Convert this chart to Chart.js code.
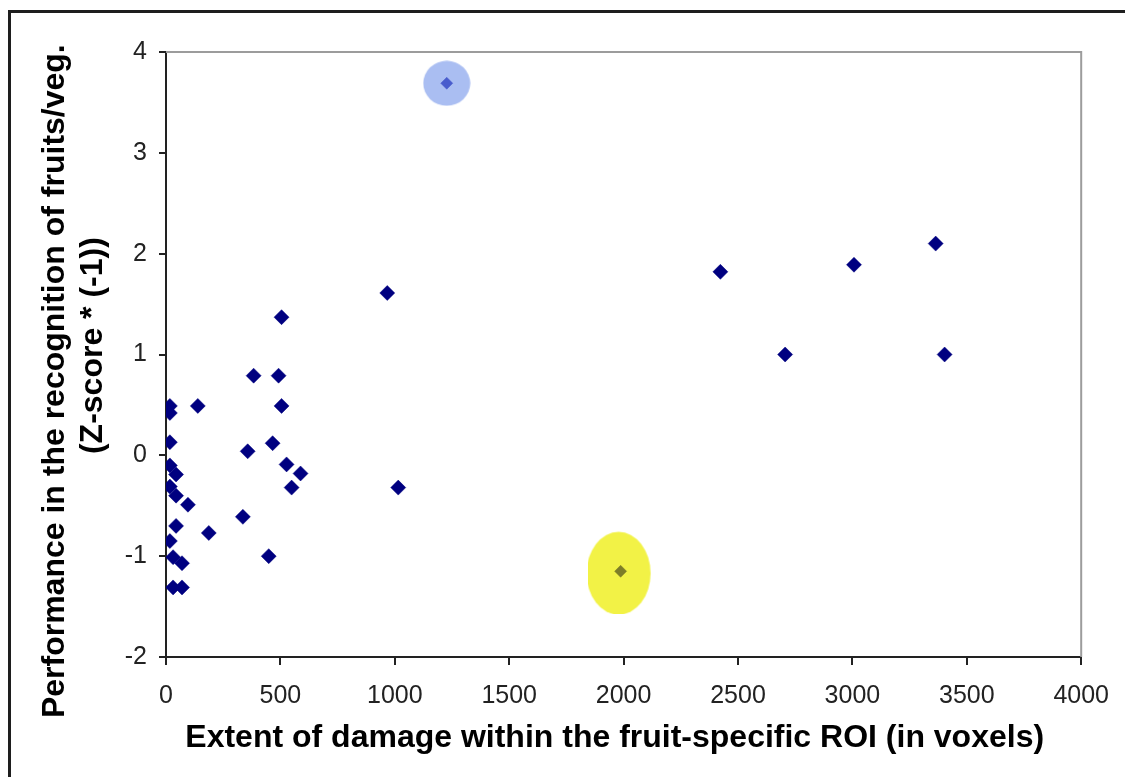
<!DOCTYPE html>
<html><head><meta charset="utf-8">
<script src="https://cdn.jsdelivr.net/npm/chart.js@4"></script>
<style>
html,body{margin:0;padding:0;background:#fff;}
#wrap{position:relative;width:1125px;height:777px;overflow:hidden;background:#fff;}
#frame{position:absolute;left:8px;top:10px;width:1300px;height:1000px;border:3px solid #1e1e1e;box-sizing:border-box;}
canvas{position:absolute;left:0;top:0;}
</style></head>
<body><div id="wrap"><div id="frame"></div><canvas id="c" width="1125" height="777"></canvas></div>
<script>
// Extent of damage (voxels) and performance (Z-score * -1)
const damageX = [17, 17, 139, 505, 17, 466, 357, 17, 44, 527, 588, 549, 1015, 17, 44, 96, 336, 44, 187, 17, 449, 31, 70, 31, 70, 505, 383, 492, 967, 2423, 3007, 3364, 2706, 3403];
const performanceY = [0.49, 0.42, 0.49, 0.49, 0.13, 0.12, 0.04, -0.10, -0.19, -0.09, -0.18, -0.32, -0.32, -0.31, -0.40, -0.49, -0.61, -0.70, -0.77, -0.85, -1.00, -1.01, -1.07, -1.31, -1.31, 1.37, 0.79, 0.79, 1.61, 1.82, 1.89, 2.10, 1.00, 1.00];
// Highlighted patients (blue circle, yellow ellipse)
const highlightX = [1227, 1987];
const highlightY = [3.69, -1.15];
const xTicks = [0, 500, 1000, 1500, 2000, 2500, 3000, 3500, 4000];
const yTicks = [-2, -1, 0, 1, 2, 3, 4];
const xTitle = 'Extent of damage within the fruit-specific ROI (in voxels)  ';
const yTitle = ['Performance in the recognition of fruits/veg.      ', '  (Z-score * (-1))'];

// highlight shapes
const blueHalo = document.createElement('canvas');
blueHalo.width = 48; blueHalo.height = 46;
(function(){const g=blueHalo.getContext('2d');g.fillStyle='rgb(170,190,242)';g.beginPath();g.ellipse(24,23,23.5,22.5,0,0,Math.PI*2);g.fill();})();
const yellowHalo = document.createElement('canvas');
yellowHalo.width = 66; yellowHalo.height = 86;
(function(){const g=yellowHalo.getContext('2d');g.fillStyle='rgb(242,242,70)';g.beginPath();g.ellipse(31,45,32,41.5,0,0,Math.PI*2);g.fill();})();

const mainPts = damageX.map((x, i) => ({x: x, y: performanceY[i]}));
const hiPts = highlightX.map((x, i) => ({x: x, y: highlightY[i]}));

const plotFrame = {
  id: 'plotFrame',
  beforeDatasetsDraw(chart) {
    const {ctx, chartArea: a} = chart;
    ctx.save();
    ctx.strokeStyle = '#9c9c9c';
    ctx.lineWidth = 2;
    ctx.beginPath();
    ctx.moveTo(a.left, a.top);
    ctx.lineTo(a.right, a.top);
    ctx.lineTo(a.right, a.bottom);
    ctx.stroke();
    ctx.restore();
  }
};

new Chart(document.getElementById('c'), {
  type: 'scatter',
  data: {
    datasets: [
      {
        data: hiPts,
        order: 3,
        pointStyle: [blueHalo, yellowHalo],
        pointRadius: 20,
        borderWidth: 0
      },
      {
        data: mainPts,
        order: 2,
        pointStyle: 'rectRot',
        pointRadius: 7.5,
        backgroundColor: '#000080',
        borderColor: '#000080',
        borderWidth: 0.5
      },
      {
        data: hiPts,
        order: 1,
        pointStyle: 'rectRot',
        pointRadius: 6,
        backgroundColor: ['rgb(72,92,205)', 'rgb(125,125,40)'],
        borderColor: ['rgb(72,92,205)', 'rgb(125,125,40)'],
        borderWidth: 0.5
      }
    ]
  },
  plugins: [plotFrame],
  options: {
    responsive: false,
    animation: false,
    events: [],
    layout: {padding: {left: 0, right: 41, top: 52, bottom: 0}},
    plugins: {legend: {display: false}, tooltip: {enabled: false}},
    scales: {
      x: {
        type: 'linear',
        min: 0, max: 4000,
        afterBuildTicks: s => { s.ticks = xTicks.map(v => ({value: v})); },
        afterFit: s => { s.height = 120; },
        border: {display: true, color: '#222', width: 2},
        grid: {drawOnChartArea: false, drawTicks: true, tickLength: 8, color: '#222', lineWidth: 2},
        ticks: {color: '#222', font: {family: 'Liberation Sans', size: 25}, padding: 16, maxRotation: 0, callback: v => String(v)},
        title: {display: true, text: xTitle, color: '#000', font: {family: 'Liberation Sans', size: 32, weight: 'bold'}, padding: {top: 0, bottom: 20}}
      },
      y: {
        type: 'linear',
        min: -2, max: 4,
        afterBuildTicks: s => { s.ticks = yTicks.map(v => ({value: v})); },
        afterFit: s => { s.width = 166; },
        border: {display: true, color: '#222', width: 2},
        grid: {drawOnChartArea: false, drawTicks: true, tickLength: 7, color: '#222', lineWidth: 2},
        ticks: {color: '#222', font: {family: 'Liberation Sans', size: 25}, padding: 12, callback: v => String(v)},
        title: {display: true, text: yTitle, color: '#000', font: {family: 'Liberation Sans', size: 32, weight: 'bold', lineHeight: 1.2}, padding: {top: 36, bottom: 0}}
      }
    }
  }
});
</script>
</body></html>
